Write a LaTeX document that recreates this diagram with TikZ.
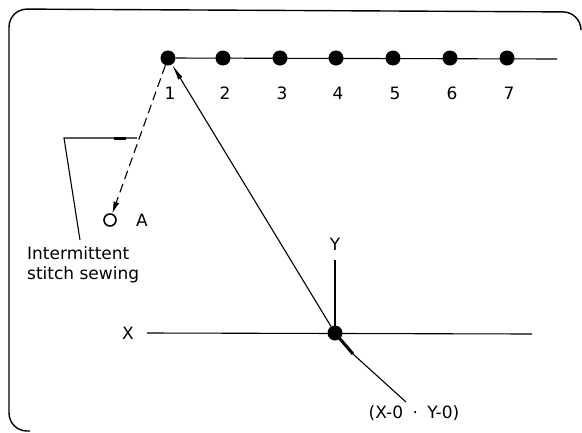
\documentclass[tikz,border=0pt]{standalone}
\usepackage{fontspec}
\setmainfont{DejaVu Sans}
\usetikzlibrary{arrows.meta}
\begin{document}
\begin{tikzpicture}[x=1pt,y=-1pt,
  dotn/.style={circle,fill=black,inner sep=0pt,minimum size=15pt},
  lbl/.style={inner sep=0pt,font=\fontsize{17}{20}\selectfont},
  ln/.style={line width=1.1pt},
  bold/.style={line width=3pt}]
\useasboundingbox (0,0) rectangle (582,432);
% frame
\draw[line width=1.4pt,rounded corners=18pt] (30,431) -- (9,431) -- (9,9) -- (581,12) -- (581,28);
% dots
\foreach \i/\x in {1/168,2/223,3/280,4/336,5/393,6/450,7/507}{
  \node[dotn] (d\i) at (\x,58) {};
  \node[lbl] (n\i) at (\x+2,93) {\i};
}
\coordinate (lend) at (557,59);
\draw[ln] (d1) -- (lend);
% origin and axes
\node[dotn] (o) at (335,333) {};
\coordinate (xs) at (147,333);
\coordinate (xe) at (532,334);
\coordinate (ye) at (335,260);
\draw[ln] (xs) -- (xe);
\draw[ln] (o.center) -- (ye);
\node[lbl] (xl) at (128,333) {X};
\node[lbl] (yl) at (335,244) {Y};
% return line
\draw[ln,-{Latex[length=16pt,width=5pt]}] (o) -- (d1);
% leader to origin label
\coordinate (lk) at (353,354);
\coordinate (le) at (406,402);
\draw[bold] (o.center) -- (lk);
\draw[ln] (lk) -- (le);
\node[lbl] (ol) at (414,413) {(X-0\hspace{4pt} · \hspace{4pt}Y-0)};
% point A
\node[circle,draw,line width=1.6pt,inner sep=0pt,minimum size=12pt] (a) at (110,220) {};
\node[lbl] (al) at (142,220) {A};
\draw[ln,dash pattern=on 9pt off 5pt,-{Latex[length=12pt,width=6pt]}] (d1) -- (a);
% bracket label
\coordinate (b1) at (64,138);
\coordinate (b2) at (137,138);
\coordinate (b3) at (80,240);
\coordinate (bk1) at (114,138);
\coordinate (bk2) at (126,138);
\draw[ln] (b3) -- (b1) -- (b2);
\draw[bold] (bk1) -- (bk2);
\node[lbl,align=left,anchor=north west] (tl) at (27,246) {Intermittent\\stitch sewing};
\end{tikzpicture}
\end{document}
